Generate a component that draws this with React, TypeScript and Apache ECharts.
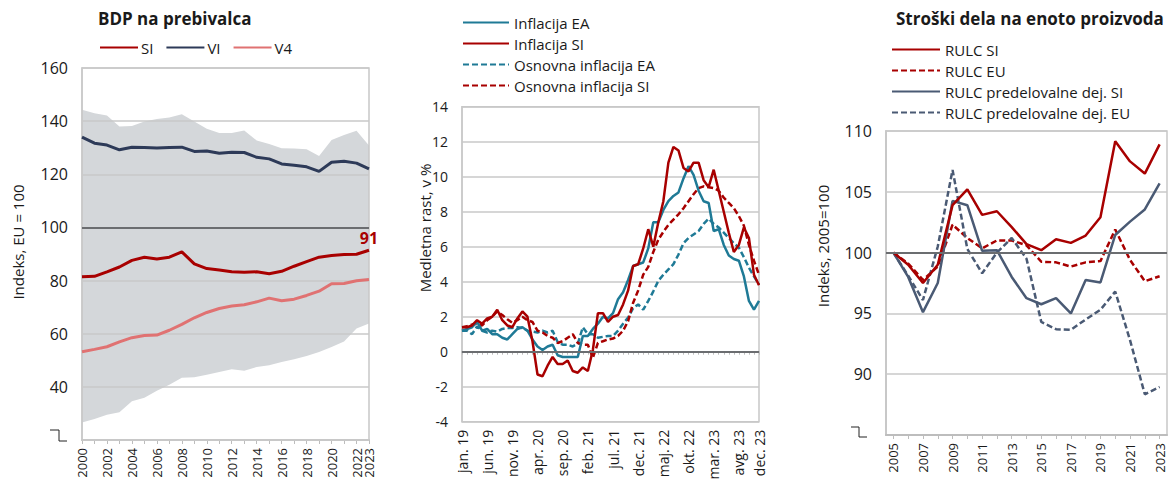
import React, { useEffect, useRef } from 'react';
import * as echarts from 'echarts';

// ---------- Panel 1: BDP na prebivalca ----------
const BDP_YEARS = ['2000','2001','2002','2003','2004','2005','2006','2007','2008','2009','2010','2011','2012','2013','2014','2015','2016','2017','2018','2019','2020','2021','2022','2023'];
const BDP_SI = [81.4,81.6,83.3,85.1,87.6,88.8,88.1,88.8,90.8,86.3,84.5,84.0,83.3,83.1,83.3,82.6,83.5,85.4,87.1,88.8,89.4,89.8,89.9,91.4];
const BDP_VI = [134.0,131.7,131.0,129.2,130.2,130.1,129.9,130.1,130.2,128.6,128.8,127.9,128.3,128.2,126.4,125.8,123.9,123.4,122.8,121.1,124.5,124.9,124.2,122.0];
const BDP_V4 = [53.2,54.1,55.1,56.9,58.5,59.3,59.5,61.3,63.5,66.0,68.0,69.5,70.4,70.9,72.0,73.4,72.4,73.0,74.4,76.0,78.8,78.9,79.9,80.4];
const BAND_MAX = [144.3,143.0,142.1,138.0,138.2,139.9,140.8,141.4,142.6,139.9,137.1,135.5,135.5,136.5,132.7,131.4,129.8,129.7,129.4,126.9,132.9,134.8,136.4,130.8];
const BAND_MIN = [26.6,27.9,29.5,30.4,34.6,35.9,38.5,40.8,43.4,43.6,44.6,45.6,46.6,46.1,47.5,48.1,49.4,50.4,51.6,53.1,55.0,57.1,62.0,63.8];

// ---------- Panel 2: inflacija ----------
const MONTH_NAMES = ['jan.','feb.','mar.','apr.','maj.','jun.','jul.','avg.','sep.','okt.','nov.','dec.'];
const MONTH_YEARS = ['19','20','21','22','23'];
const MONTHS = MONTH_YEARS.flatMap((y) => MONTH_NAMES.map((m) => `${m} ${y}`));
const INF_EA = [1.2,1.3,1.4,1.7,1.2,1.3,1.0,1.0,0.8,0.7,1.0,1.3, 1.4,1.2,0.7,0.3,0.1,0.3,0.4,-0.2,-0.3,-0.3,-0.3,-0.3, 0.9,0.9,1.3,1.6,2.0,1.9,2.2,3.0,3.4,4.1,4.9,5.0, 5.1,5.9,7.4,7.4,8.1,8.6,8.9,9.1,9.9,10.6,10.1,9.2, 8.6,8.5,6.9,7.0,6.1,5.5,5.3,5.2,4.3,2.9,2.4,2.9];
const INF_SI = [1.4,1.4,1.5,1.8,1.6,1.9,2.0,2.4,1.8,1.5,1.4,1.9, 2.3,2.0,0.6,-1.3,-1.4,-0.8,-0.3,-0.7,-0.7,-0.5,-1.1,-1.2, -0.9,-1.1,0.1,2.2,2.2,1.7,2.0,2.1,2.7,3.5,4.9,5.0, 5.9,7.0,6.0,7.4,8.6,10.8,11.7,11.5,10.5,10.3,10.8,10.8, 9.8,9.4,10.4,9.2,8.0,6.8,5.7,6.1,7.1,6.5,4.4,3.8];
const CORE_EA = [1.2,1.2,1.0,1.45,1.2,1.1,1.2,1.15,1.3,1.35,1.35,1.4, 1.35,1.2,1.15,1.1,1.2,1.1,1.2,0.55,0.4,0.4,0.3,0.45, 1.4,1.0,1.0,0.8,0.85,0.9,0.9,1.2,1.6,1.95,2.5,2.7, 2.4,2.9,3.45,4.05,4.4,4.7,5.0,5.55,6.2,6.5,6.7,6.9, 7.3,7.6,7.3,7.1,6.8,6.5,6.2,5.95,5.4,4.8,4.3,3.85];
const CORE_SI = [1.4,1.45,1.55,1.6,1.5,1.8,2.0,2.3,2.1,1.85,1.65,1.8, 2.0,1.8,1.7,1.2,1.1,0.9,0.8,0.5,0.6,0.8,1.0,0.5, 0.4,0.4,-0.35,0.5,0.6,0.7,0.75,0.9,1.2,1.75,2.8,3.5, 4.4,4.85,5.7,6.4,6.85,7.25,7.55,7.85,8.2,8.6,9.0,9.35, 9.45,9.4,9.35,9.2,8.8,8.5,8.2,7.75,7.2,6.1,5.2,4.4];

// ---------- Panel 3: RULC ----------
const RULC_YEARS = ['2005','2006','2007','2008','2009','2010','2011','2012','2013','2014','2015','2016','2017','2018','2019','2020','2021','2022','2023'];
const RULC_SI = [100,99.0,97.5,99.0,103.9,105.2,103.1,103.4,102.1,100.7,100.2,101.1,100.8,101.4,102.9,109.15,107.5,106.5,108.9];
const RULC_EU = [100,99.1,97.75,98.85,102.3,101.2,100.35,101.0,101.0,100.6,99.25,99.2,98.85,99.2,99.3,101.9,99.4,97.65,98.05];
const RULC_MAN_SI = [100,98.0,95.1,97.5,104.25,103.9,100.15,100.2,98.0,96.25,95.75,96.25,95.0,97.75,97.55,101.45,102.55,103.55,105.7];
const RULC_MAN_EU = [100,98.1,96.1,100.5,106.8,100.3,98.3,100.0,101.2,99.5,94.3,93.7,93.65,94.5,95.3,96.8,92.8,88.35,88.95];

const FONT = 'Open Sans';
const TXT = '#1a1a1a';
const RED = '#a80000';
const NAVY = '#2d3a58';
const SALMON = '#e07272';
const TEAL = '#1f7a96';
const SLATE = '#4a5a74';
const GRIDC = '#c8c8c8';
const DARK = '#6b6d70';

const refLine = (v: number) => ({
  silent: true,
  symbol: 'none',
  label: { show: false },
  lineStyle: { color: DARK, width: 2, type: 'solid' },
  data: [{ yAxis: v }],
});

function buildOption(): any {
  const bandDiff = BAND_MAX.map((v, i) => +(v - BAND_MIN[i]).toFixed(2));
  const lastIdx = BDP_SI.length - 1;
  const siLast = BDP_SI.map((v, i) => (i === lastIdx ? v : null));

  const yLab = (size: number, hide?: number) => ({
    color: TXT,
    fontSize: size,
    fontFamily: FONT,
    margin: 14,
    formatter: (v: number) => (hide !== undefined && v === hide ? '' : String(v)),
  });
  const xCommon = {
    axisLine: { show: true, lineStyle: { color: '#bdbdbd', width: 2 } },
    axisTick: { show: true, length: 4, lineStyle: { color: '#bdbdbd', width: 1 } },
  };
  const split = { show: true, lineStyle: { color: GRIDC, width: 1.5 } };
  const legText = { fontSize: 15, color: TXT, fontFamily: FONT, lineHeight: 14 };

  return {
    animation: false,
    textStyle: { fontFamily: FONT },
    title: [
      { text: 'BDP na prebivalca', left: 93, top: 5, textStyle: { fontSize: 17, fontWeight: 'bold', color: TXT, fontFamily: FONT } },
      { text: 'Stroški dela na enoto proizvoda', left: 891, top: 5, textStyle: { fontSize: 17, fontWeight: 'bold', color: TXT, fontFamily: FONT } },
    ],
    legend: [
      {
        data: ['SI', 'VI', 'V4'],
        left: 94, top: 35, orient: 'horizontal',
        itemWidth: 38, itemHeight: 14, itemGap: 12,
        itemStyle: { opacity: 0 },
        textStyle: { ...legText, padding: [0, 0, 0, -2] },
      },
      {
        data: ['Inflacija EA', 'Inflacija SI', 'Osnovna inflacija EA', 'Osnovna inflacija SI'],
        left: 457, top: 10, orient: 'vertical',
        itemWidth: 46, itemHeight: 14, itemGap: 6,
        itemStyle: { opacity: 0 },
        textStyle: legText,
      },
      {
        data: ['RULC SI', 'RULC EU', 'RULC predelovalne dej. SI', 'RULC predelovalne dej. EU'],
        left: 886, top: 37, orient: 'vertical',
        itemWidth: 48, itemHeight: 14, itemGap: 6,
        itemStyle: { opacity: 0 },
        textStyle: legText,
      },
    ],
    grid: [
      { left: 82, top: 68, width: 287, height: 372, show: true, borderColor: GRIDC, borderWidth: 1.5, z: 1 },
      { left: 462, top: 106.7, width: 297, height: 315, show: true, borderColor: GRIDC, borderWidth: 1.5 },
      { left: 886, top: 131, width: 281, height: 304, show: true, borderColor: GRIDC, borderWidth: 1.5 },
    ],
    xAxis: [
      {
        gridIndex: 0, type: 'category', data: BDP_YEARS, boundaryGap: false, ...xCommon,
        axisTick: { ...xCommon.axisTick, interval: 0 },
        axisLabel: {
          rotate: 90, color: TXT, fontSize: 13, lineHeight: 12, fontFamily: FONT, margin: 8, hideOverlap: false,
          interval: 0,
          formatter: (v: string, i: number) => (i % 2 === 0 || i === BDP_YEARS.length - 1 ? v : ''),
        },
      },
      {
        gridIndex: 1, type: 'category', data: MONTHS, boundaryGap: false, ...xCommon,
        axisTick: { ...xCommon.axisTick, length: 3, interval: 0 },
        axisLabel: { rotate: 90, color: TXT, fontSize: 14, fontFamily: FONT, margin: 8, hideOverlap: false, showMaxLabel: true, interval: (i: number) => i % 5 === 0 || i === 59 },
      },
      {
        gridIndex: 2, type: 'category', data: RULC_YEARS, boundaryGap: true, ...xCommon,
        axisTick: { ...xCommon.axisTick, interval: 0, alignWithLabel: true },
        axisLabel: { rotate: 90, color: TXT, fontSize: 13, fontFamily: FONT, margin: 8, hideOverlap: false, showMaxLabel: true, interval: (i: number) => i % 2 === 0 },
      },
    ],
    yAxis: [
      {
        gridIndex: 0, type: 'value', min: 20, max: 160, interval: 20, z: 1,
        axisLine: { show: true, lineStyle: { color: GRIDC, width: 1.5 } }, axisTick: { show: false },
        splitLine: split, axisLabel: yLab(16, 20),
      },
      {
        gridIndex: 1, type: 'value', min: -4, max: 14, interval: 2,
        axisLine: { show: true, lineStyle: { color: GRIDC, width: 1.5 } }, axisTick: { show: false },
        splitLine: split, axisLabel: yLab(14),
      },
      {
        gridIndex: 2, type: 'value', min: 85, max: 110, interval: 5,
        axisLine: { show: true, lineStyle: { color: GRIDC, width: 2 } }, axisTick: { show: false },
        splitLine: split, axisLabel: yLab(16, 85),
      },
    ],
    series: [
      // Panel 1 band
      { name: 'bandLow', type: 'line', xAxisIndex: 0, yAxisIndex: 0, data: BAND_MIN, stack: 'band', symbol: 'none', lineStyle: { opacity: 0 }, silent: true, z: 0 },
      { name: 'bandRange', type: 'line', xAxisIndex: 0, yAxisIndex: 0, data: bandDiff, stack: 'band', symbol: 'none', lineStyle: { opacity: 0 }, areaStyle: { color: '#d4d7da', opacity: 1 }, silent: true, z: 0 },
      { name: 'V4', type: 'line', xAxisIndex: 0, yAxisIndex: 0, data: BDP_V4, symbol: 'none', lineStyle: { color: SALMON, width: 3 }, itemStyle: { color: SALMON }, z: 3 },
      { name: 'SI', type: 'line', xAxisIndex: 0, yAxisIndex: 0, data: BDP_SI, symbol: 'none', lineStyle: { color: RED, width: 3 }, itemStyle: { color: RED }, z: 3, markLine: refLine(100) },
      { name: 'VI', type: 'line', xAxisIndex: 0, yAxisIndex: 0, data: BDP_VI, symbol: 'none', lineStyle: { color: NAVY, width: 3 }, itemStyle: { color: NAVY }, z: 3 },
      {
        name: 'SI-label', type: 'scatter', xAxisIndex: 0, yAxisIndex: 0, data: siLast, symbolSize: 1,
        itemStyle: { color: 'rgba(0,0,0,0)' }, silent: true, z: 5,
        label: {
          show: true, position: 'top', distance: 4, opacity: 1,
          formatter: (p: any) => String(Math.floor(Array.isArray(p.value) ? p.value[1] : p.value)),
          color: RED, fontWeight: 'bold', fontSize: 16, fontFamily: FONT,
        },
      },
      // Panel 2
      { name: 'Osnovna inflacija EA', type: 'line', xAxisIndex: 1, yAxisIndex: 1, data: CORE_EA, symbol: 'none', lineStyle: { color: TEAL, width: 2.5, type: [6, 3] }, itemStyle: { color: TEAL }, z: 3, markLine: refLine(0) },
      { name: 'Osnovna inflacija SI', type: 'line', xAxisIndex: 1, yAxisIndex: 1, data: CORE_SI, symbol: 'none', lineStyle: { color: RED, width: 2.5, type: [6, 3] }, itemStyle: { color: RED }, z: 3 },
      { name: 'Inflacija EA', type: 'line', xAxisIndex: 1, yAxisIndex: 1, data: INF_EA, symbol: 'none', lineStyle: { color: TEAL, width: 2.5 }, itemStyle: { color: TEAL }, z: 4 },
      { name: 'Inflacija SI', type: 'line', xAxisIndex: 1, yAxisIndex: 1, data: INF_SI, symbol: 'none', lineStyle: { color: RED, width: 2.5 }, itemStyle: { color: RED }, z: 4 },
      // Panel 3
      { name: 'RULC EU', type: 'line', xAxisIndex: 2, yAxisIndex: 2, data: RULC_EU, symbol: 'none', lineStyle: { color: RED, width: 2.5, type: [6, 3] }, itemStyle: { color: RED }, z: 3, markLine: refLine(100) },
      { name: 'RULC predelovalne dej. EU', type: 'line', xAxisIndex: 2, yAxisIndex: 2, data: RULC_MAN_EU, symbol: 'none', lineStyle: { color: SLATE, width: 2.5, type: [6, 3] }, itemStyle: { color: SLATE }, z: 3 },
      { name: 'RULC predelovalne dej. SI', type: 'line', xAxisIndex: 2, yAxisIndex: 2, data: RULC_MAN_SI, symbol: 'none', lineStyle: { color: SLATE, width: 2.5 }, itemStyle: { color: SLATE }, z: 4 },
      { name: 'RULC SI', type: 'line', xAxisIndex: 2, yAxisIndex: 2, data: RULC_SI, symbol: 'none', lineStyle: { color: RED, width: 2.5 }, itemStyle: { color: RED }, z: 4 },
    ],
    graphic: [
      { type: 'text', x: 18, y: 242, rotation: Math.PI / 2, style: { text: 'Indeks, EU = 100', fill: TXT, fontSize: 15, fontFamily: FONT, align: 'center', verticalAlign: 'middle' } },
      { type: 'text', x: 425, y: 228, rotation: Math.PI / 2, style: { text: 'Medletna rast, v %', fill: TXT, fontSize: 15, fontFamily: FONT, align: 'center', verticalAlign: 'middle' } },
      { type: 'text', x: 823, y: 246, rotation: Math.PI / 2, style: { text: 'Indeks, 2005=100', fill: TXT, fontSize: 15, fontFamily: FONT, align: 'center', verticalAlign: 'middle' } },
      { type: 'polyline', shape: { points: [[50, 430], [59, 430], [59, 441], [67, 441]] }, style: { stroke: '#222', lineWidth: 1, fill: null } },
      { type: 'polyline', shape: { points: [[851, 427], [859, 427], [859, 437], [867, 437]] }, style: { stroke: '#222', lineWidth: 1, fill: null } },
    ],
  };
}

export default function App() {
  const ref = useRef<HTMLDivElement>(null);
  useEffect(() => {
    if (!ref.current) return;
    const chart = echarts.init(ref.current, null, { renderer: 'svg' });
    chart.setOption(buildOption());
    return () => chart.dispose();
  }, []);
  return <div ref={ref} style={{ position: 'absolute', left: 0, top: 0, width: 1168, height: 487 }} />;
}
